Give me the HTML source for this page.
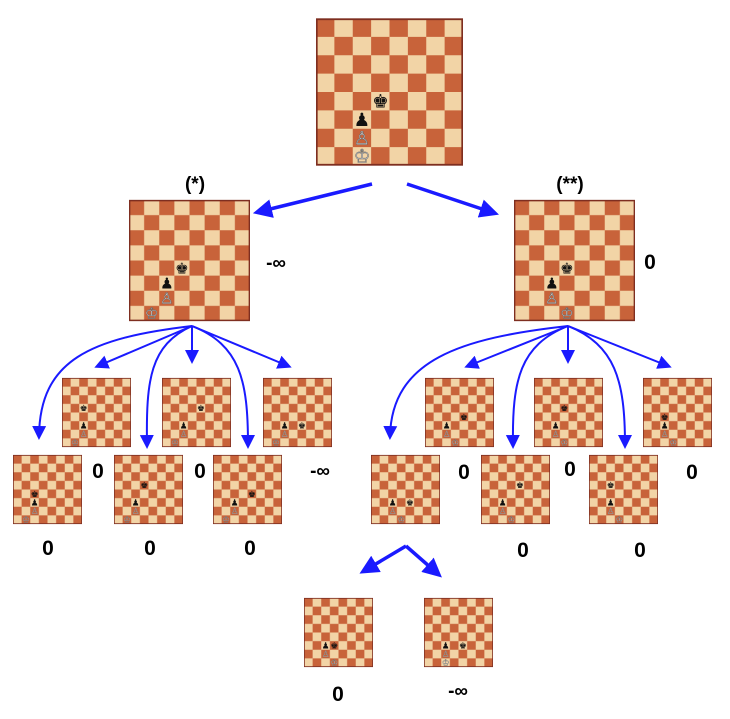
<!DOCTYPE html>
<html><head><meta charset="utf-8"><style>
html,body{margin:0;padding:0;background:#fff;width:730px;height:719px;overflow:hidden}
svg text.l{font-family:"Liberation Sans",sans-serif;font-weight:bold;fill:#000}
</style></head><body>
<svg width="730" height="719" viewBox="0 0 730 719" xmlns="http://www.w3.org/2000/svg">
<defs>
<pattern id="chk" x="0" y="0" width="2" height="2" patternUnits="userSpaceOnUse">
<rect width="2" height="2" fill="#f2d4a6"/>
<rect width="1" height="1" fill="#c8633a"/>
<rect x="1" y="1" width="1" height="1" fill="#c8633a"/>
</pattern>
<g id="sq"><rect width="8" height="8" fill="url(#chk)"/><rect x="0.04" y="0.04" width="7.92" height="7.92" fill="none" stroke="#7e2e20" stroke-width="0.1"/></g>
<marker id="ah" markerWidth="6" markerHeight="6" refX="4" refY="3" orient="auto" markerUnits="strokeWidth"><path d="M0,0.3 L5.5,3 L0,5.7 z" fill="#1a1aff"/></marker>
<marker id="ah2" markerWidth="8" markerHeight="8" refX="5" refY="4" orient="auto" markerUnits="strokeWidth"><path d="M0,0.5 L7,4 L0,7.5 z" fill="#1a1aff"/></marker>
</defs>
<style>
.p{font-family:"DejaVu Sans",sans-serif;font-size:1px;text-anchor:middle}
.b{fill:#111}.w{fill:#eee;stroke:#666;stroke-width:0.03}
</style>

<svg x="316" y="16" width="147" height="152" viewBox="0 0 8 8"><use href="#sq"/>
<text class="p b" x="3.5" y="4.85">♚</text><text class="p b" x="2.5" y="5.85">♟</text><text class="p w" x="2.5" y="6.85">♙</text><text class="p w" x="2.5" y="7.85">♔</text></svg>

<svg x="129" y="199" width="121" height="123" viewBox="0 0 8 8"><use href="#sq"/>
<text class="p b" x="3.5" y="4.85">♚</text><text class="p b" x="2.5" y="5.85">♟</text><text class="p w" x="2.5" y="6.85">♙</text><text class="p w" x="1.5" y="7.85">♔</text></svg>
<svg x="514" y="199" width="121" height="123" viewBox="0 0 8 8"><use href="#sq"/>
<text class="p b" x="3.5" y="4.85">♚</text><text class="p b" x="2.5" y="5.85">♟</text><text class="p w" x="2.5" y="6.85">♙</text><text class="p w" x="3.5" y="7.85">♔</text></svg>

<svg x="62" y="377" width="69" height="71" viewBox="0 0 8 8"><use href="#sq"/><text class="p b" x="2.5" y="3.85">♚</text><text class="p b" x="2.5" y="5.85">♟</text><text class="p w" x="2.5" y="6.85">♙</text><text class="p w" x="1.5" y="7.85">♔</text></svg>
<svg x="162" y="377" width="69" height="71" viewBox="0 0 8 8"><use href="#sq"/><text class="p b" x="4.5" y="3.85">♚</text><text class="p b" x="2.5" y="5.85">♟</text><text class="p w" x="2.5" y="6.85">♙</text><text class="p w" x="1.5" y="7.85">♔</text></svg>
<svg x="263" y="377" width="69" height="71" viewBox="0 0 8 8"><use href="#sq"/><text class="p b" x="4.5" y="5.85">♚</text><text class="p b" x="2.5" y="5.85">♟</text><text class="p w" x="2.5" y="6.85">♙</text><text class="p w" x="1.5" y="7.85">♔</text></svg>
<svg x="13" y="454" width="69" height="71" viewBox="0 0 8 8"><use href="#sq"/><text class="p b" x="2.5" y="4.85">♚</text><text class="p b" x="2.5" y="5.85">♟</text><text class="p w" x="2.5" y="6.85">♙</text><text class="p w" x="1.5" y="7.85">♔</text></svg>
<svg x="114" y="454" width="69" height="71" viewBox="0 0 8 8"><use href="#sq"/><text class="p b" x="3.5" y="3.85">♚</text><text class="p b" x="2.5" y="5.85">♟</text><text class="p w" x="2.5" y="6.85">♙</text><text class="p w" x="1.5" y="7.85">♔</text></svg>
<svg x="213" y="454" width="69" height="71" viewBox="0 0 8 8"><use href="#sq"/><text class="p b" x="4.5" y="4.85">♚</text><text class="p b" x="2.5" y="5.85">♟</text><text class="p w" x="2.5" y="6.85">♙</text><text class="p w" x="1.5" y="7.85">♔</text></svg>

<svg x="425" y="377" width="69" height="71" viewBox="0 0 8 8"><use href="#sq"/><text class="p b" x="4.5" y="4.85">♚</text><text class="p b" x="2.5" y="5.85">♟</text><text class="p w" x="2.5" y="6.85">♙</text><text class="p w" x="3.5" y="7.85">♔</text></svg>
<svg x="534" y="377" width="69" height="71" viewBox="0 0 8 8"><use href="#sq"/><text class="p b" x="3.5" y="3.85">♚</text><text class="p b" x="2.5" y="5.85">♟</text><text class="p w" x="2.5" y="6.85">♙</text><text class="p w" x="3.5" y="7.85">♔</text></svg>
<svg x="643" y="377" width="69" height="71" viewBox="0 0 8 8"><use href="#sq"/><text class="p b" x="2.5" y="4.85">♚</text><text class="p b" x="2.5" y="5.85">♟</text><text class="p w" x="2.5" y="6.85">♙</text><text class="p w" x="3.5" y="7.85">♔</text></svg>
<svg x="371" y="454" width="69" height="71" viewBox="0 0 8 8"><use href="#sq"/><text class="p b" x="4.5" y="5.85">♚</text><text class="p b" x="2.5" y="5.85">♟</text><text class="p w" x="2.5" y="6.85">♙</text><text class="p w" x="3.5" y="7.85">♔</text></svg>
<svg x="481" y="454" width="69" height="71" viewBox="0 0 8 8"><use href="#sq"/><text class="p b" x="4.5" y="3.85">♚</text><text class="p b" x="2.5" y="5.85">♟</text><text class="p w" x="2.5" y="6.85">♙</text><text class="p w" x="3.5" y="7.85">♔</text></svg>
<svg x="589" y="454" width="69" height="71" viewBox="0 0 8 8"><use href="#sq"/><text class="p b" x="2.5" y="3.85">♚</text><text class="p b" x="2.5" y="5.85">♟</text><text class="p w" x="2.5" y="6.85">♙</text><text class="p w" x="3.5" y="7.85">♔</text></svg>

<svg x="304" y="597" width="69" height="71" viewBox="0 0 8 8"><use href="#sq"/><text class="p b" x="3.5" y="5.85">♚</text><text class="p b" x="2.5" y="5.85">♟</text><text class="p w" x="2.5" y="6.85">♙</text><text class="p w" x="3.5" y="7.85">♔</text></svg>
<svg x="424" y="597" width="69" height="71" viewBox="0 0 8 8"><use href="#sq"/><text class="p b" x="4.5" y="5.85">♚</text><text class="p b" x="2.5" y="5.85">♟</text><text class="p w" x="2.5" y="6.85">♙</text><text class="p w" x="2.5" y="7.85">♔</text></svg>

<g fill="none" stroke="#1a1aff" stroke-width="3.5" marker-end="url(#ah)">
<path d="M372,184 L258,212"/>
<path d="M407,184 L494,213"/>
<path d="M406,546 L364,571"/>
<path d="M406,546 L438,574"/>
</g>
<g fill="none" stroke="#1a1aff" stroke-width="2" marker-end="url(#ah2)">
<path d="M192,326 C90,338 40,360 39,436"/>
<path d="M192,326 L98,366"/>
<path d="M192,326 C150,345 146,380 147,445"/>
<path d="M192,326 L192,360"/>
<path d="M192,326 C240,345 248,380 248,445"/>
<path d="M192,326 L288,366"/>
<path d="M568,326 C460,338 392,360 390,436"/>
<path d="M568,326 L468,366"/>
<path d="M568,326 C520,345 512,380 513,445"/>
<path d="M568,326 L568,360"/>
<path d="M568,326 C615,345 625,380 625,445"/>
<path d="M568,326 L668,366"/>
</g>

<text class="l" x="195" y="190" font-size="19" text-anchor="middle">(*)</text>
<text class="l" x="570" y="190" font-size="19" text-anchor="middle">(**)</text>
<text class="l" x="276" y="269" font-size="19" text-anchor="middle">-∞</text>
<text class="l" x="650" y="269" font-size="21" text-anchor="middle">0</text>
<g font-size="21" text-anchor="middle">
<text class="l" x="98" y="478">0</text>
<text class="l" x="200" y="478">0</text>
<text class="l" x="320" y="477" font-size="19">-∞</text>
<text class="l" x="48" y="555">0</text>
<text class="l" x="150" y="555">0</text>
<text class="l" x="250" y="555">0</text>
<text class="l" x="464" y="479">0</text>
<text class="l" x="570" y="476">0</text>
<text class="l" x="692" y="479">0</text>
<text class="l" x="523" y="557">0</text>
<text class="l" x="640" y="557">0</text>
<text class="l" x="338" y="701">0</text>
<text class="l" x="458" y="697" font-size="19">-∞</text>
</g>
</svg>
</body></html>
